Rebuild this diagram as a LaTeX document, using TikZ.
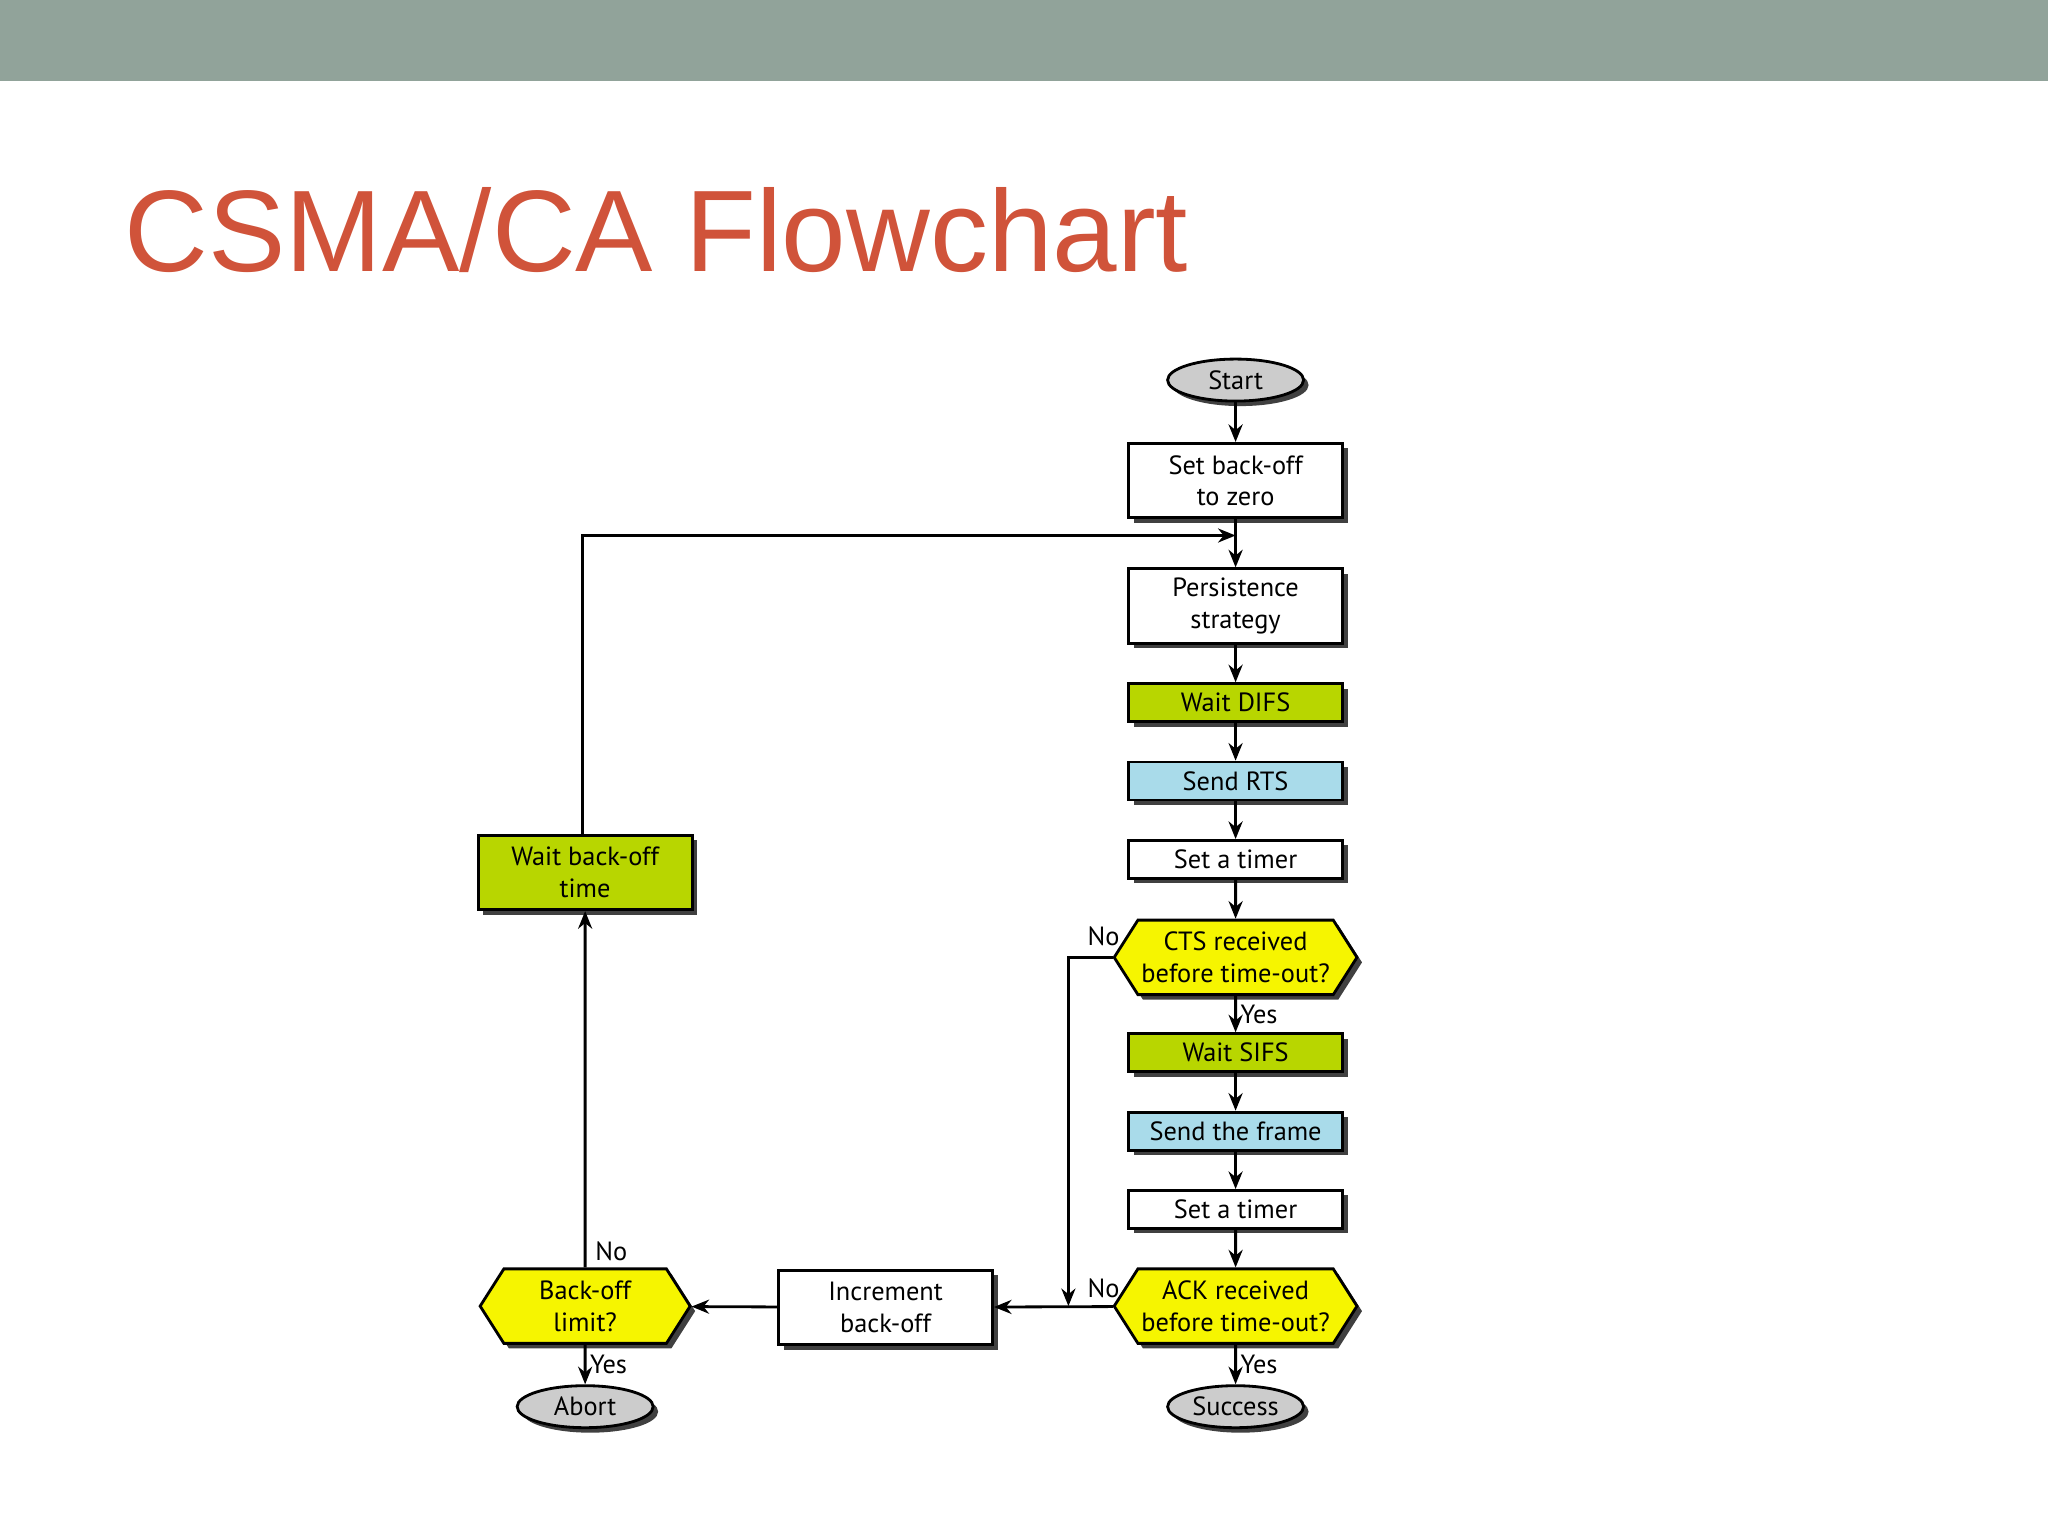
\documentclass[tikz,border=0pt]{standalone}
\usepackage{fontspec}
\setmainfont{PT Sans}
\newfontfamily\titlefont{Liberation Sans}
\usetikzlibrary{shapes.geometric,shapes.symbols,shadows,arrows.meta}
\definecolor{bandgray}{HTML}{91A39A}
\definecolor{titlered}{HTML}{D0533A}
\definecolor{waitgreen}{HTML}{B8D600}
\definecolor{sendblue}{HTML}{A9DBEA}
\definecolor{askyellow}{HTML}{F6F500}
\tikzset{
    box/.style={draw, thick, rectangle, minimum width=2.14cm, inner sep=1pt, align=center,
        font=\fontsize{7.5}{9}\selectfont, fill=white,
        drop shadow={shadow xshift=0.05cm, shadow yshift=-0.05cm, fill=black!75, opacity=1}},
    ask/.style={box, shape=signal, signal to=west and east, signal pointer angle=115,
        minimum height=0.745cm, fill=askyellow},
    term/.style={box, ellipse, minimum width=1.36cm, minimum height=0.42cm, fill=black!20},
    flow/.style={thick, -{Stealth[length=5pt,width=4pt]}},
    lbl/.style={font=\fontsize{7.5}{9}\selectfont}
}
\begin{document}
\begin{tikzpicture}[x=0.01306cm, y=-0.01306cm]
    \useasboundingbox (0,0) rectangle (1568,1176);
    % header band and title
    \fill[bandgray] (0,0) rectangle (1568,62);
    \node[anchor=base west, inner sep=0, text=titlered, font=\titlefont\fontsize{33}{36}\selectfont] (title) at (95,208) {CSMA/CA Flowchart};
    % main column
    \node[term] (start) at (946,291) {Start};
    \node[box, minimum height=0.745cm] (zero) at (946,368) {Set back-off\\to zero};
    \coordinate (join) at (946,410);
    \node[box, minimum height=0.745cm] (persist) at (946,464) {Persistence\\strategy};
    \node[box, minimum height=0.38cm, fill=waitgreen] (difs) at (946,538) {Wait DIFS};
    \node[box, minimum height=0.38cm, fill=sendblue] (rts) at (946,598) {Send RTS};
    \node[box, minimum height=0.38cm] (timer1) at (946,658) {Set a timer};
    \node[ask] (cts) at (946,733) {CTS received\\before time-out?};
    \node[box, minimum height=0.38cm, fill=waitgreen] (sifs) at (946,806) {Wait SIFS};
    \node[box, minimum height=0.38cm, fill=sendblue] (frame) at (946,866) {Send the frame};
    \node[box, minimum height=0.38cm] (timer2) at (946,926) {Set a timer};
    \node[ask] (ack) at (946,1000) {ACK received\\before time-out?};
    \node[term] (success) at (946,1077) {Success};
    % back-off branch
    \node[box, minimum height=0.745cm] (incr) at (678,1001) {Increment\\back-off};
    \node[ask, minimum width=2.1cm] (limit) at (448,1000) {Back-off\\limit?};
    \node[term] (abort) at (448,1077) {Abort};
    \node[box, minimum height=0.745cm, fill=waitgreen] (waitbo) at (448,668) {Wait back-off\\time};
    \coordinate (nodrop) at (818,1000);
    % connectors
    \draw[flow] (start) -- (zero);
    \draw[flow] (zero) -- (persist);
    \draw[flow] (persist) -- (difs);
    \draw[flow] (difs) -- (rts);
    \draw[flow] (rts) -- (timer1);
    \draw[flow] (timer1) -- (cts);
    \draw[flow] (cts) -- node[lbl, right, inner sep=1pt] {Yes} (sifs);
    \draw[flow] (sifs) -- (frame);
    \draw[flow] (frame) -- (timer2);
    \draw[flow] (timer2) -- (ack);
    \draw[flow] (ack) -- node[lbl, right, inner sep=1pt] {Yes} (success);
    \draw[flow] (cts.west) -- (cts.west -| nodrop) -- (nodrop);
    \draw[flow] (ack) -- (incr);
    \draw[flow] (incr) -- (limit);
    \draw[flow] (limit) -- node[lbl, right, inner sep=1pt] {Yes} (abort);
    \draw[flow] (limit) -- (waitbo);
    \draw[flow] (waitbo.north -| 446,0) -- (446,410) -- (join);
    \draw[thick] (join) -- (zero.south);
    % labels
    \node[lbl] (nocts) at (845,717) {No};
    \node[lbl] (noack) at (845,986) {No};
    \node[lbl] (nolimit) at (468,958) {No};
\end{tikzpicture}
\end{document}
